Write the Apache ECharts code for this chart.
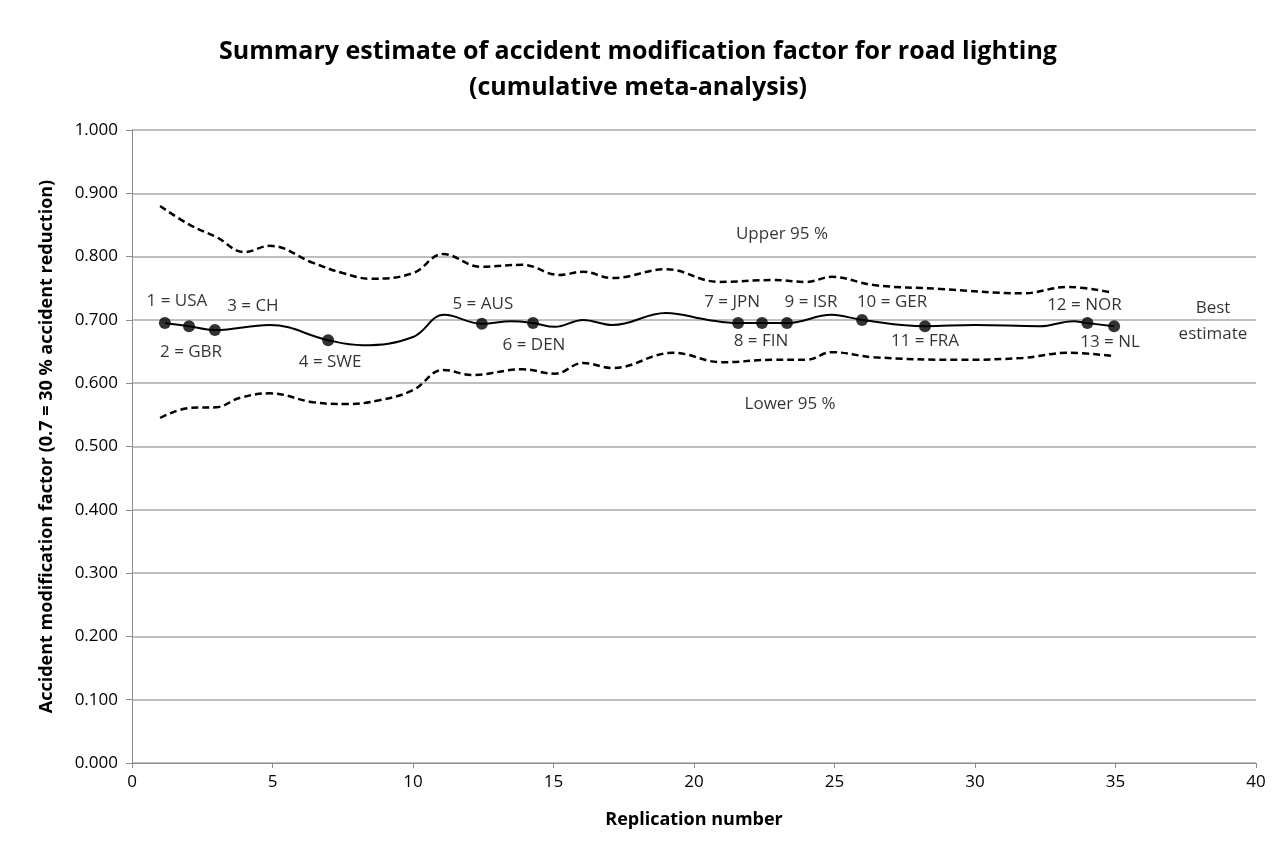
<!DOCTYPE html>
<html>
<head>
<meta charset="utf-8">
<script src="https://cdn.jsdelivr.net/npm/echarts@6/dist/echarts.min.js"></script>
<style>
  html, body { margin: 0; padding: 0; background: #fff; }
  #chart { width: 1276px; height: 849px; }
</style>
</head>
<body>
<div id="chart"></div>
<script>
// values
const countryLabels = ['1 = USA', '2 = GBR', '3 = CH', '4 = SWE', '5 = AUS', '6 = DEN', '7 = JPN',
    '8 = FIN', '9 = ISR', '10 = GER', '11 = FRA', '12 = NOR', '13 = NL'];
const countryX = [1.17, 2.03, 2.95, 6.98, 12.45, 14.27, 21.57, 22.42, 23.31, 25.98, 28.22, 34.0, 34.95];
const countryY = [0.695, 0.690, 0.684, 0.668, 0.694, 0.695, 0.695, 0.695, 0.695, 0.700, 0.690, 0.695, 0.690];

const bestX = [1.17, 2.03, 2.95, 4.9, 6.98, 8.2, 10.0, 11.1, 12.45, 13.5, 14.27, 15.05, 16.05, 17.1,
    19.0, 20.5, 21.57, 22.42, 23.31, 24.9, 25.98, 28.22, 30.0, 32.3, 33.5, 34.0, 34.95];
const bestY = [0.695, 0.690, 0.684, 0.692, 0.668, 0.660, 0.673, 0.708, 0.694, 0.698, 0.695, 0.689, 0.700, 0.692,
    0.711, 0.700, 0.695, 0.695, 0.695, 0.708, 0.700, 0.690, 0.692, 0.690, 0.698, 0.695, 0.690];

const upperX = [1.0, 2.06, 3.0, 4.0, 4.9, 6.45, 7.5, 8.5, 10.0, 11.07, 12.4, 13.9, 15.2, 16.05, 17.1,
    19.0, 20.9, 22.8, 24.0, 24.9, 26.4, 28.75, 31.7, 33.3, 34.9];
const upperY = [0.880, 0.850, 0.831, 0.807, 0.817, 0.790, 0.774, 0.765, 0.774, 0.804, 0.784, 0.787, 0.771, 0.776, 0.766,
    0.780, 0.760, 0.763, 0.760, 0.768, 0.755, 0.749, 0.742, 0.752, 0.743];

const lowerX = [1.0, 2.06, 3.0, 3.85, 4.9, 6.45, 7.65, 8.8, 10.0, 11.07, 12.1, 13.9, 15.05, 16.05, 17.1,
    19.25, 21.0, 22.8, 24.0, 24.9, 26.4, 29.5, 31.7, 33.3, 34.9];
const lowerY = [0.545, 0.561, 0.562, 0.577, 0.584, 0.570, 0.567, 0.573, 0.589, 0.621, 0.613, 0.622, 0.615, 0.632, 0.624,
    0.648, 0.633, 0.637, 0.637, 0.649, 0.641, 0.637, 0.640, 0.648, 0.643];

const noteLabels = ['Upper 95 %', 'Lower 95 %', 'Best\nestimate'];
const noteX = [23.13, 23.42, 38.47];
const noteY = [0.836, 0.567, 0.698];

// label offsets in pixels relative to each marker (layout only)
const labelOffsets = [[12, -22], [2, 26], [38, -24], [2, 22], [1, -20], [1, 22], [-6, -21],
    [-1, 18], [24, -21], [30, -18], [0, 15], [-3, -18], [-4, 16]];

const FONT = '"Open Sans", Lato, sans-serif';
const pairs = (xs, ys) => xs.map((x, i) => [x, ys[i]]);

const chart = echarts.init(document.getElementById('chart'));
const options = {
    animation: false,
    backgroundColor: '#fff',
    textStyle: { fontFamily: FONT },
    title: {
        text: 'Summary estimate of accident modification factor for road lighting\n(cumulative meta-analysis)',
        left: 'center',
        top: 29,
        textStyle: { fontFamily: FONT, fontSize: 25, fontWeight: 'bold', color: '#000', lineHeight: 36 }
    },
    grid: { left: 132, right: 20, top: 130, bottom: 86 },
    xAxis: {
        type: 'value',
        min: 0, max: 40, interval: 5,
        name: 'Replication number',
        nameLocation: 'middle',
        nameGap: 48,
        nameTextStyle: { fontFamily: FONT, fontSize: 18, fontWeight: 'bold', color: '#000' },
        axisLine: { show: true, lineStyle: { color: '#8c8c8c', width: 1 } },
        axisTick: { show: true, length: 5, lineStyle: { color: '#8c8c8c' } },
        axisLabel: { fontSize: 17, color: '#000', margin: 11 },
        splitLine: { show: false }
    },
    yAxis: {
        type: 'value',
        min: 0, max: 1, interval: 0.1,
        name: 'Accident modification factor (0.7 = 30 % accident reduction)',
        nameLocation: 'middle',
        nameGap: 76,
        nameTextStyle: { fontFamily: FONT, fontSize: 18, fontWeight: 'bold', color: '#000' },
        axisLine: { show: true, lineStyle: { color: '#8c8c8c', width: 1 } },
        axisTick: { show: true, length: 6, lineStyle: { color: '#8c8c8c' } },
        axisLabel: { fontSize: 17, color: '#000', margin: 14, formatter: v => v.toFixed(3) },
        splitLine: { show: true, lineStyle: { color: '#bfbfbf', width: 2 } }
    },
    series: [
        {
            name: 'Upper 95 %',
            type: 'line',
            smooth: 0.4,
            symbol: 'none',
            data: pairs(upperX, upperY),
            lineStyle: { color: '#000', width: 2.5, type: [7, 4] },
            z: 3
        },
        {
            name: 'Lower 95 %',
            type: 'line',
            smooth: 0.4,
            symbol: 'none',
            data: pairs(lowerX, lowerY),
            lineStyle: { color: '#000', width: 2.5, type: [7, 4] },
            z: 3
        },
        {
            name: 'Best estimate',
            type: 'line',
            smooth: 0.4,
            symbol: 'none',
            data: pairs(bestX, bestY),
            lineStyle: { color: '#000', width: 2 },
            z: 4
        },
        {
            name: 'Countries',
            type: 'scatter',
            symbol: 'circle',
            symbolSize: 12,
            itemStyle: { color: '#000' },
            data: countryX.map((x, i) => ({
                value: [x, countryY[i]],
                label: {
                    show: true,
                    formatter: countryLabels[i],
                    position: 'inside',
                    offset: labelOffsets[i],
                    fontSize: 17,
                    color: '#000',
                    fontFamily: FONT
                }
            })),
            z: 5
        },
        {
            name: 'Notes',
            type: 'scatter',
            symbolSize: 0,
            silent: true,
            data: pairs(noteX, noteY),
            label: {
                show: true,
                position: 'inside',
                formatter: p => noteLabels[p.dataIndex],
                fontSize: 17,
                lineHeight: 26,
                color: '#000',
                fontFamily: FONT
            },
            z: 5
        }
    ]
};
chart.setOption(options);
</script>
</body>
</html>
